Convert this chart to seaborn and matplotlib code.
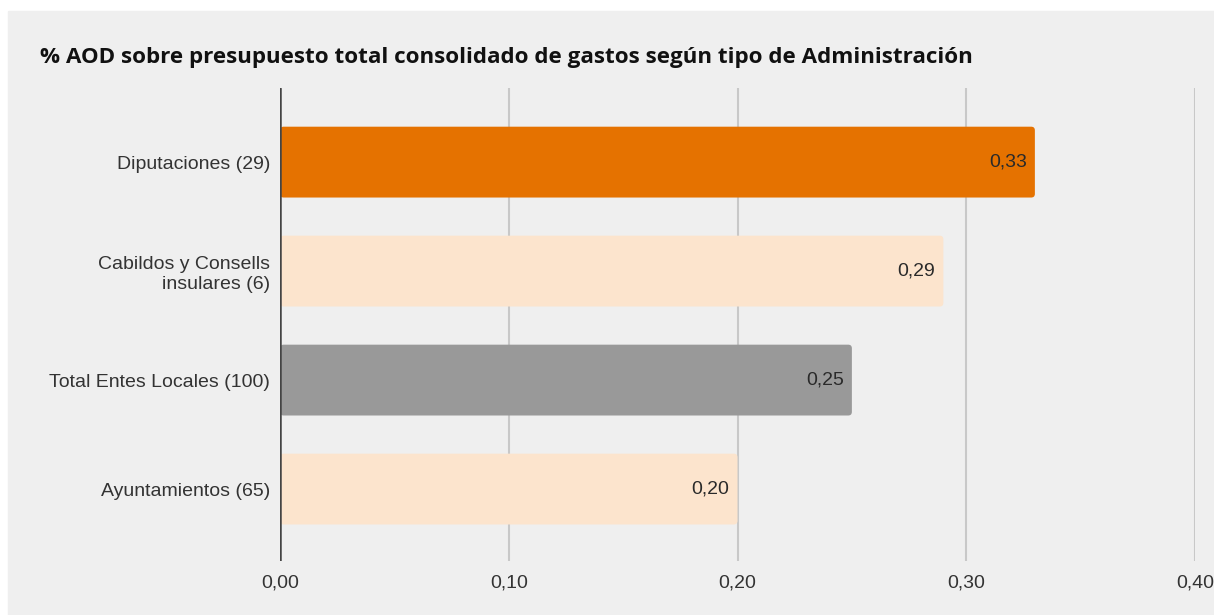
import matplotlib
matplotlib.use('Agg')

import matplotlib.pyplot as plt
import seaborn as sns
from matplotlib.patches import Rectangle, FancyBboxPatch
from matplotlib.ticker import FuncFormatter

# data
categorias = ['Diputaciones (29)', 'Cabildos y Consells\ninsulares (6)',
              'Total Entes Locales (100)', 'Ayuntamientos (65)']
valores = [0.33, 0.29, 0.25, 0.20]
colores = ['#E57200', '#FCE4CD', '#999999', '#FCE4CD']
ticks_x = [0.0, 0.1, 0.2, 0.3, 0.4]

sns.set_style('white')
plt.rcParams['font.family'] = ['Liberation Sans', 'DejaVu Sans']

fig = plt.figure(figsize=(12.14, 6.15), dpi=100, facecolor='white')
# grey panel behind the chart
fig.patches.append(Rectangle((8 / 1214, 0), 1, 1 - 11 / 615,
                             transform=fig.transFigure, color='#EFEFEF', zorder=-1))

ax = fig.add_axes([280 / 1214, 1 - 561 / 615, (1195 - 280) / 1214, (561 - 88) / 615])
ax.set_facecolor('#EFEFEF')

sns.barplot(x=valores, y=categorias, hue=categorias, palette=colores,
            legend=False, width=0.65, saturation=1, linewidth=0, ax=ax, zorder=3)

# swap plain bars for slightly rounded ones
for p in list(ax.patches):
    x0, y0, w, h = p.get_x(), p.get_y(), p.get_width(), p.get_height()
    rb = FancyBboxPatch((x0, y0), w, h, boxstyle='round,pad=0,rounding_size=0.0016',
                        mutation_aspect=21, facecolor=p.get_facecolor(),
                        edgecolor='none', zorder=3)
    p.remove()
    ax.add_patch(rb)

ax.set_xlim(0, 0.4)
ax.set_ylim(3.66, -0.68)
ax.set_xticks(ticks_x)
ax.xaxis.set_major_formatter(FuncFormatter(lambda v, p: f'{v:.2f}'.replace('.', ',')))
ax.tick_params(axis='x', length=0, labelsize=14, labelcolor='#333333', pad=10)
ax.tick_params(axis='y', length=0, labelsize=14, labelcolor='#333333', pad=7)
for lbl in ax.get_yticklabels():
    lbl.set_horizontalalignment('right')
    lbl.set_multialignment('right')
    lbl.set_linespacing(1.2)

for t in ticks_x[1:]:
    ax.axvline(t, color='#C8C8C8', lw=1.5, zorder=1)
ax.axvline(0, color='#444444', lw=1.8, zorder=4)

for s in ax.spines.values():
    s.set_visible(False)
ax.set_xlabel('')
ax.set_ylabel('')

for i, v in enumerate(valores):
    ax.text(v - 0.0035, i, f'{v:.2f}'.replace('.', ','), ha='right', va='center',
            fontsize=14, color='#2a2a2a', zorder=5)

fig.text(40 / 1214, 1 - 57 / 615,
         '% AOD sobre presupuesto total consolidado de gastos según tipo de Administración',
         fontsize=16.1, fontweight='bold', family=['Open Sans', 'DejaVu Sans'],
         color='#111111', va='center', ha='left')

fig.savefig('out.png', dpi=100, facecolor='white')
